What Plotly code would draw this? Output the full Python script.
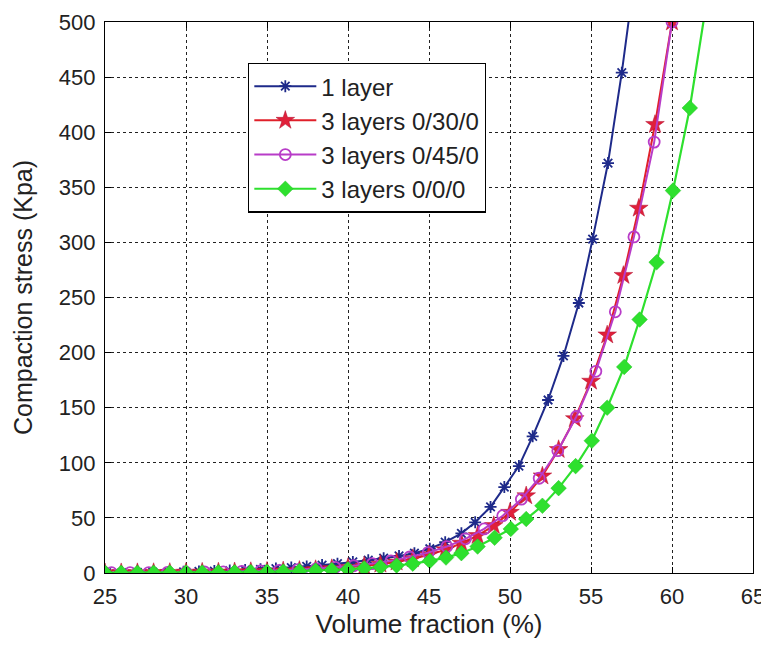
import plotly.graph_objects as go

# ---- data ----
blue_x = [25.1, 26.05, 27.0, 27.95, 28.9, 29.85, 30.8, 31.75, 32.7, 33.65, 34.6, 35.55, 36.5,
          37.45, 38.4, 39.35, 40.3, 41.25, 42.2, 43.15, 44.1, 45.05, 46.0, 47.0, 47.85, 48.8,
          49.65, 50.55, 51.4, 52.35, 53.3, 54.25, 55.1, 56.05, 56.9, 57.75]
blue_y = [0.3, 0.4, 0.5, 0.7, 0.9, 1.1, 1.4, 1.8, 2.2, 2.7, 3.3, 4.0, 4.9,
          6.0, 7.2, 8.5, 10.0, 11.6, 13.4, 15.5, 18.0, 22, 28, 36, 46, 60,
          78, 97, 124, 157, 197, 245, 303, 372, 454, 548]

red_x = [25, 26, 27, 28, 29, 30, 31, 32, 33, 34, 35, 36, 37, 38, 39, 40, 41, 42, 43, 44,
         45, 46, 47, 48, 49, 50, 51, 52, 53, 54, 55, 56, 57, 57.95, 58.95, 60.0]
red_y = [0.2, 0.25, 0.3, 0.4, 0.5, 0.6, 0.75, 0.9, 1.1, 1.3, 1.6, 1.9, 2.4, 3.1, 4.0, 5.0,
         6.3, 8.0, 10.0, 13.0, 16.5, 21, 27, 34, 43, 55, 70, 88, 112, 140, 174, 216, 270,
         331, 407, 500]

mag_x = [25.4, 26.55, 27.7, 28.85, 30.0, 31.15, 32.3, 33.45, 34.6, 35.75, 36.9, 38.05, 39.2,
         40.35, 41.5, 42.65, 43.8, 44.95, 46.1, 47.25, 48.4, 49.55, 50.7, 51.8, 52.95, 54.1,
         55.3, 56.5, 57.65, 58.9, 60.0]
mag_y = [0.25, 0.3, 0.4, 0.5, 0.7, 0.9, 1.1, 1.5, 1.9, 2.4, 3.1, 4.0, 5.1,
         6.6, 8.5, 11, 14.5, 18.5, 24, 31, 40, 52, 67, 86, 111, 142,
         183, 237, 305, 391, 500]

green_x = [25, 26, 27, 28, 29, 30, 31, 32, 33, 34, 35, 36, 37, 38, 39, 40, 41, 42, 43, 44,
           45.05, 46.05, 47.0, 48.0, 49.05, 50.05, 51.0, 52.0, 53.0, 54.05, 55.05, 56.0, 57.05,
           58.0, 59.05, 60.06, 61.1, 62.1]
green_y = [0.1, 0.15, 0.2, 0.25, 0.3, 0.35, 0.45, 0.55, 0.7, 0.9, 1.1, 1.4, 1.7, 2.2, 2.7,
           3.4, 4.3, 5.4, 6.8, 8.5, 11, 14, 18, 24, 32, 40, 49, 61, 77, 97, 120, 150, 187,
           230, 282, 347, 422, 515]

names = ["1 layer", "3 layers 0/30/0", "3 layers 0/45/0", "3 layers 0/0/0"]
x_ticks = [25, 30, 35, 40, 45, 50, 55, 60, 65]
y_ticks = [0, 50, 100, 150, 200, 250, 300, 350, 400, 450, 500]

FONT = "Liberation Sans, Arial, sans-serif"

fig = go.Figure()
fig.add_trace(go.Scatter(x=blue_x, y=blue_y, name=names[0], mode="lines+markers",
                         line=dict(color="#1e2a8a", width=2),
                         marker=dict(symbol="asterisk-open", size=10,
                                     line=dict(color="#1530d0", width=1.8))))
fig.add_trace(go.Scatter(x=red_x, y=red_y, name=names[1], mode="lines+markers",
                         line=dict(color="#e0202a", width=2),
                         marker=dict(symbol="star", size=14, color="#e0203a",
                                     line=dict(color="#b01030", width=0.5))))
fig.add_trace(go.Scatter(x=mag_x, y=mag_y, name=names[2], mode="lines+markers",
                         line=dict(color="#b83cc8", width=2),
                         marker=dict(symbol="circle-open", size=11,
                                     line=dict(color="#c830c8", width=1.8))))
fig.add_trace(go.Scatter(x=green_x, y=green_y, name=names[3], mode="lines+markers",
                         line=dict(color="#2ee02e", width=2.2),
                         marker=dict(symbol="diamond", size=12, color="#2ee02e",
                                     line=dict(color="#20c020", width=0.5))))

axis_common = dict(showline=True, linecolor="black", linewidth=1.3, mirror="ticks",
                   ticks="inside", ticklen=6, tickcolor="black",
                   showgrid=True, gridcolor="#222222", griddash="dot", gridwidth=1.2,
                   zeroline=False, automargin=False, ticklabeloverflow="allow",
                   tickfont=dict(family=FONT, size=22, color="#222"))

fig.update_xaxes(range=[25, 65], tickvals=x_ticks, ticktext=[str(v) for v in x_ticks],
                 ticklabelstandoff=3,
                 title=dict(text="Volume fraction (%)", font=dict(family=FONT, size=26, color="#222"),
                            standoff=3), **axis_common)
fig.update_yaxes(range=[0, 500], tickvals=y_ticks, ticktext=[str(v) for v in y_ticks],
                 ticklabelstandoff=4,
                 title=dict(text="Compaction stress (Kpa)", font=dict(family=FONT, size=25, color="#222"),
                            standoff=18), **axis_common)

# page body adds an 8px offset, so the figure is sized to fill the rest of the window
fig.update_layout(
    width=761, height=639,
    margin=dict(l=97, r=16, t=14, b=74),
    paper_bgcolor="white", plot_bgcolor="white",
    showlegend=True,
    legend=dict(x=0.2207, y=0.926, xanchor="left", yanchor="top",
                bgcolor="white", bordercolor="black", borderwidth=1.3,
                font=dict(family=FONT, size=24, color="#222"),
                tracegroupgap=0, itemwidth=62),
)

fig.write_html("out.html")
